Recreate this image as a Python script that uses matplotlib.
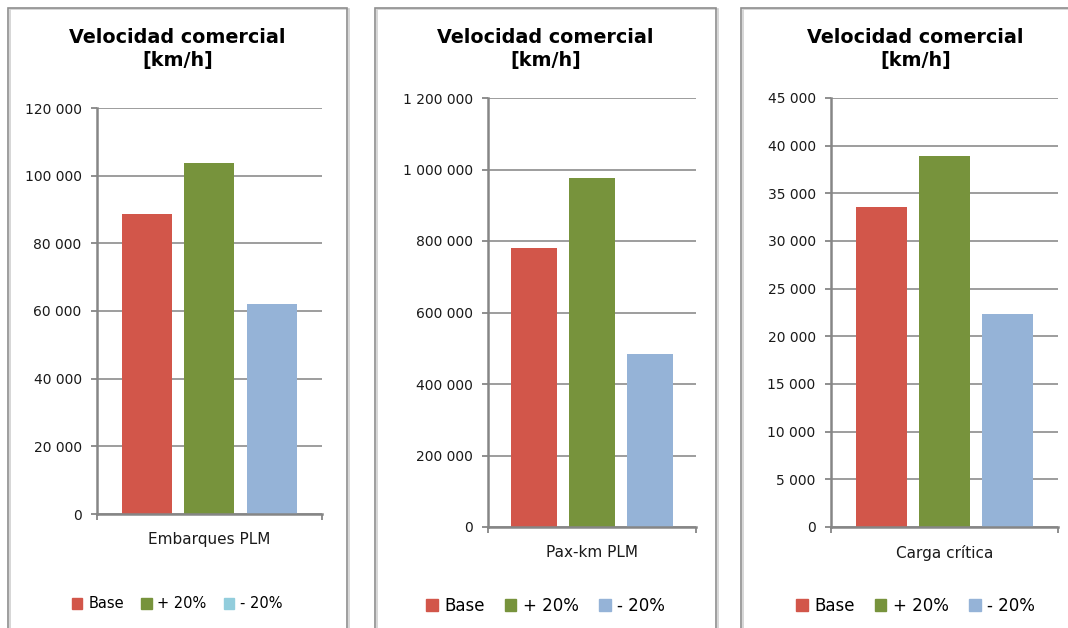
import matplotlib
matplotlib.use("Agg")
import matplotlib.pyplot as plt
from matplotlib.patches import Rectangle
from matplotlib.ticker import FuncFormatter, MultipleLocator

# ---- data ----
title = "Velocidad comercial\n[km/h]"
series = ["Base", "+ 20%", "- 20%"]
categories = ["Embarques PLM", "Pax-km PLM", "Carga crítica"]
embarques = [88600, 103600, 62100]
paxkm = [780000, 977000, 484000]
carga = [33600, 38900, 22350]
y_max = [120000, 1200000, 45000]
y_step = [20000, 200000, 5000]

colors = ["#D2564A", "#77933C", "#95B3D7"]
legend_colors = [
    ["#D2564A", "#77933C", "#92CDDC"],
    ["#D2564A", "#77933C", "#95B3D7"],
    ["#D2564A", "#77933C", "#95B3D7"],
]

W, H = 1068, 628
fig = plt.figure(figsize=(W / 100, H / 100), dpi=100)
fig.patch.set_facecolor("white")

plt.rcParams["font.family"] = ["DejaVu Sans"]

# layout in pixels: panel frame (left, right), axes (left, right, top, bottom)
frames = [(8, 347), (375, 716), (741, 1090)]
axes_px = [(97, 322, 108, 514), (488, 696, 98, 527), (831, 1058, 98, 527)]
legend_size = [10.5, 12, 12]
legend_y = [604, 606, 606]

values = [embarques, paxkm, carga]
grid_col = "#8C8C8C"


def fmt(v, _):
    return f"{v:,.0f}".replace(",", " ")


for i in range(3):
    fl, fr = frames[i]
    # panel frame with light shadow
    fig.add_artist(Rectangle(((fl + 1.5) / W, -0.1), (fr - fl) / W, (1.1 - 9.5 / H),
                             transform=fig.transFigure, fill=False,
                             edgecolor="#D0D0D0", linewidth=1.2))
    fig.add_artist(Rectangle((fl / W, -0.1), (fr - fl) / W, (1.1 - 8 / H),
                             transform=fig.transFigure, fill=False,
                             edgecolor="#8E8E8E", linewidth=1.2))

    l, r, t, b = axes_px[i]
    ax = fig.add_axes([l / W, 1 - b / H, (r - l) / W, (b - t) / H])
    x = [-1, 0, 1]
    ax.bar(x, values[i], width=0.8, color=colors, zorder=2)
    ax.set_xlim(-1.8, 1.8)
    ax.set_ylim(0, y_max[i])
    ax.yaxis.set_major_locator(MultipleLocator(y_step[i]))
    ax.yaxis.set_major_formatter(FuncFormatter(fmt))
    ax.grid(axis="y", color=grid_col, linewidth=1.2, zorder=0)
    ax.set_axisbelow(True)
    for s in ["top", "right"]:
        ax.spines[s].set_visible(False)
    for s in ["left", "bottom"]:
        ax.spines[s].set_color("#868686")
        ax.spines[s].set_linewidth(1.8)
    ax.tick_params(axis="y", length=4, width=1.3, color="#868686", pad=7,
                   labelsize=10, labelcolor="#1A1A1A")
    ax.set_xticks([0])
    ax.set_xticklabels([categories[i]])
    ax.tick_params(axis="x", which="major", length=0, pad=13, labelsize=11,
                   labelcolor="#1A1A1A")
    ax.set_xticks([-1.8, 1.8], minor=True)
    ax.tick_params(axis="x", which="minor", length=4, width=1.3, color="#868686")

    cx = (fl + fr) / 2
    fig.text(cx / W, 1 - 49 / H, title, ha="center", va="center",
             fontsize=13.8, fontweight="bold", linespacing=1.3)

    handles = [Rectangle((0, 0), 1, 1, color=c) for c in legend_colors[i]]
    fig.legend(handles, series, loc="center", bbox_to_anchor=(cx / W, 1 - legend_y[i] / H),
               ncol=3, frameon=False, fontsize=legend_size[i],
               handlelength=0.7, handleheight=0.7, handletextpad=0.4,
               columnspacing=1.2, borderaxespad=0)

fig.savefig("out.png", dpi=100, facecolor="white")
